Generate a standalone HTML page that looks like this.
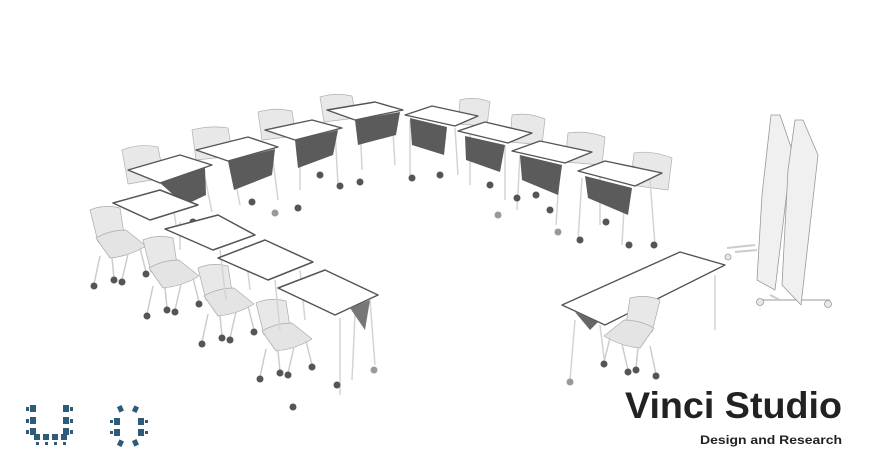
<!DOCTYPE html>
<html><head><meta charset="utf-8"><style>
html,body{margin:0;padding:0;background:#fff;width:870px;height:471px;overflow:hidden}
svg{position:absolute;left:0;top:0}
.t{font-family:"Liberation Sans",sans-serif;font-weight:bold;fill:#222}
</style></head><body>
<svg width="870" height="471" viewBox="0 0 870 471">
<defs>
<g id="chairR">
 <path d="M0,0 Q14,-6 30,-2 L34,24 Q20,32 8,32 Z" fill="#e8e8e8" stroke="#aaa" stroke-width="0.7"/>
 <path d="M6,28 Q20,20 36,20 L56,36 Q40,46 20,48 Z" fill="#e4e4e4" stroke="#aaa" stroke-width="0.7"/>
 <path d="M10,46 L4,74 M22,48 L24,68 M50,38 L56,62 M38,44 L32,70" stroke="#ccc" stroke-width="1.5"/>
 <circle cx="4" cy="76" r="3.5" fill="#555"/><circle cx="24" cy="70" r="3.5" fill="#555"/>
 <circle cx="56" cy="64" r="3.5" fill="#555"/><circle cx="32" cy="72" r="3.5" fill="#555"/>
</g>
</defs>
<g stroke-linejoin="round">
<g fill="#e8e8e8" stroke="#b0b0b0" stroke-width="0.7">
<path d="M122,150 Q140,143 158,147 L164,178 L128,184 Z"/>
<path d="M192,130 Q210,125 228,128 L233,156 L196,160 Z"/>
<path d="M258,112 Q275,107 292,111 L296,136 L262,140 Z"/>
<path d="M320,97 Q336,92 352,96 L356,118 L324,122 Z"/>
<path d="M460,100 Q475,96 490,102 L487,126 L458,124 Z"/>
<path d="M512,115 Q528,112 545,119 L542,145 L510,142 Z"/>
<path d="M568,133 Q586,130 605,137 L602,165 L565,162 Z"/>
<path d="M634,153 Q652,150 672,158 L668,190 L630,185 Z"/>
</g>
<g stroke="#d4d4d4" stroke-width="1.5">
<path d="M170,185 L176,225 M205,178 L212,212 M232,162 L240,205 M272,152 L278,200 M300,140 L300,190 M335,130 L338,185 M360,120 L362,170 M392,115 L395,165 M410,120 L410,175 M455,128 L458,175 M470,135 L470,185 M505,145 L505,200 M520,155 L517,210 M560,165 L556,225 M582,178 L578,240 M625,190 L622,245 M650,180 L655,245 M600,165 L600,225"/>
</g>
<g fill="#555">
<circle cx="252" cy="202" r="3.5"/><circle cx="298" cy="208" r="3.5"/><circle cx="320" cy="175" r="3.5"/><circle cx="340" cy="186" r="3.5"/>
<circle cx="360" cy="182" r="3.5"/><circle cx="412" cy="178" r="3.5"/><circle cx="440" cy="175" r="3.5"/><circle cx="490" cy="185" r="3.5"/>
<circle cx="517" cy="198" r="3.5"/><circle cx="536" cy="195" r="3.5"/><circle cx="550" cy="210" r="3.5"/><circle cx="606" cy="222" r="3.5"/>
<circle cx="580" cy="240" r="3.5"/><circle cx="629" cy="245" r="3.5"/><circle cx="654" cy="245" r="3.5"/><circle cx="193" cy="222" r="3.5"/>
<circle cx="498" cy="215" r="3.5" fill="#999"/><circle cx="275" cy="213" r="3.5" fill="#999"/><circle cx="558" cy="232" r="3.5" fill="#999"/>
</g>
<g fill="#fff" stroke="#555" stroke-width="1.4">
<path d="M128,170 L180,155 L212,165 L160,183 Z"/>
<path d="M196,150 L248,137 L278,147 L228,161 Z"/>
<path d="M265,130 L312,120 L342,128 L295,140 Z"/>
<path d="M327,110 L375,102 L403,110 L355,120 Z"/>
<path d="M405,115 L432,106 L478,116 L455,126 Z"/>
<path d="M458,131 L485,122 L532,133 L508,143 Z"/>
<path d="M512,151 L540,141 L592,152 L565,163 Z"/>
<path d="M578,171 L605,161 L662,173 L635,186 Z"/>
</g>
<g fill="#5b5b5b">
<path d="M160,183 L205,168 L206,195 L185,205 Z"/>
<path d="M228,161 L275,149 L272,175 L234,190 Z"/>
<path d="M295,140 L338,130 L333,155 L298,168 Z"/>
<path d="M355,120 L400,112 L396,135 L358,145 Z"/>
<path d="M410,118 L447,127 L444,155 L412,145 Z"/>
<path d="M465,136 L505,145 L500,172 L466,160 Z"/>
<path d="M520,155 L562,165 L558,195 L522,180 Z"/>
<path d="M585,176 L632,188 L628,215 L588,198 Z"/>
</g>
<use href="#chairR" x="90" y="210"/>
<use href="#chairR" x="143" y="240"/>
<use href="#chairR" x="198" y="268"/>
<use href="#chairR" x="256" y="303"/>
<g stroke="#d4d4d4" stroke-width="1.5">
<path d="M180,222 L180,250 M220,250 L226,300 M245,246 L250,290 M275,280 L280,330 M300,270 L305,320 M340,318 L340,395 M370,300 L375,365 M355,315 L352,380"/>
</g>
<g fill="#fff" stroke="#555" stroke-width="1.5">
<path d="M113,203 L160,190 L198,205 L150,220 Z"/>
<path d="M165,229 L218,215 L255,235 L213,250 Z"/>
<path d="M218,258 L265,240 L313,262 L268,280 Z"/>
<path d="M278,288 L325,270 L378,295 L335,315 Z"/>
</g>
<g fill="#777"><path d="M350,308 L370,300 L365,330 Z"/><circle cx="374" cy="370" r="3.5" fill="#999"/><circle cx="337" cy="385" r="3.5" fill="#555"/><circle cx="293" cy="407" r="3.5" fill="#555"/></g>
<g stroke="#d4d4d4" stroke-width="1.5"><path d="M575,320 L570,380 M715,275 L715,330 M600,325 L605,365"/></g>
<path d="M562,305 L680,252 L725,265 L605,325 Z" fill="#fff" stroke="#555" stroke-width="1.4"/>
<path d="M575,312 L590,330 L598,322 Z" fill="#666"/>
<circle cx="570" cy="382" r="3.5" fill="#999"/>
<use href="#chairR" x="650" y="300" transform="translate(1310,0) scale(-1,1)"/>
<g fill="#f0f0f0" stroke="#999" stroke-width="0.8">
<path d="M727,248 L755,245 M735,252 L757,250" stroke="#ccc" stroke-width="2"/>
<path d="M760,300 L830,300 M770,295 L780,300" stroke="#ccc" stroke-width="2"/>
<path d="M771,115 L780,115 L792,150 L775,290 L757,280 L762,195 Z"/>
<path d="M795,120 L803,120 L818,155 L801,305 L782,285 L788,170 Z"/>
</g>
<g fill="#e8e8e8" stroke="#999" stroke-width="0.8"><circle cx="728" cy="257" r="3"/><circle cx="760" cy="302" r="3.5"/><circle cx="828" cy="304" r="3.5"/></g>
<g fill="#2f5a78">
<rect x="30" y="405" width="6" height="7"/><rect x="30" y="417" width="6" height="7"/><rect x="30" y="428" width="6" height="7"/>
<rect x="26" y="407" width="3" height="4"/><rect x="26" y="419" width="3" height="4"/><rect x="26" y="430" width="3" height="4"/>
<rect x="63" y="405" width="6" height="7"/><rect x="63" y="417" width="6" height="7"/><rect x="63" y="428" width="6" height="7"/>
<rect x="70" y="407" width="3" height="4"/><rect x="70" y="419" width="3" height="4"/><rect x="70" y="430" width="3" height="4"/>
<rect x="34" y="434" width="6" height="6"/><rect x="43" y="434" width="6" height="6"/><rect x="52" y="434" width="6" height="6"/><rect x="61" y="434" width="6" height="6"/>
<rect x="36" y="442" width="3" height="3"/><rect x="45" y="442" width="3" height="3"/><rect x="54" y="442" width="3" height="3"/><rect x="63" y="442" width="3" height="3"/>
<rect x="118" y="406" width="5" height="6" transform="rotate(-25 120 409)"/><rect x="133" y="406" width="5" height="6" transform="rotate(25 135 409)"/>
<rect x="114" y="418" width="6" height="7"/><rect x="138" y="418" width="6" height="7"/>
<rect x="114" y="429" width="6" height="7"/><rect x="138" y="429" width="6" height="7"/>
<rect x="118" y="440" width="5" height="6" transform="rotate(25 120 443)"/><rect x="133" y="440" width="5" height="6" transform="rotate(-25 135 443)"/>
<rect x="110" y="420" width="3" height="3"/><rect x="145" y="420" width="3" height="3"/><rect x="110" y="431" width="3" height="3"/><rect x="145" y="431" width="3" height="3"/>
</g>
</g>
<text class="t" x="625" y="418" font-size="37" textLength="217" lengthAdjust="spacingAndGlyphs">Vinci Studio</text>
<text class="t" x="700" y="444" font-size="12" textLength="142" lengthAdjust="spacingAndGlyphs">Design and Research</text>
</svg>
</body></html>
